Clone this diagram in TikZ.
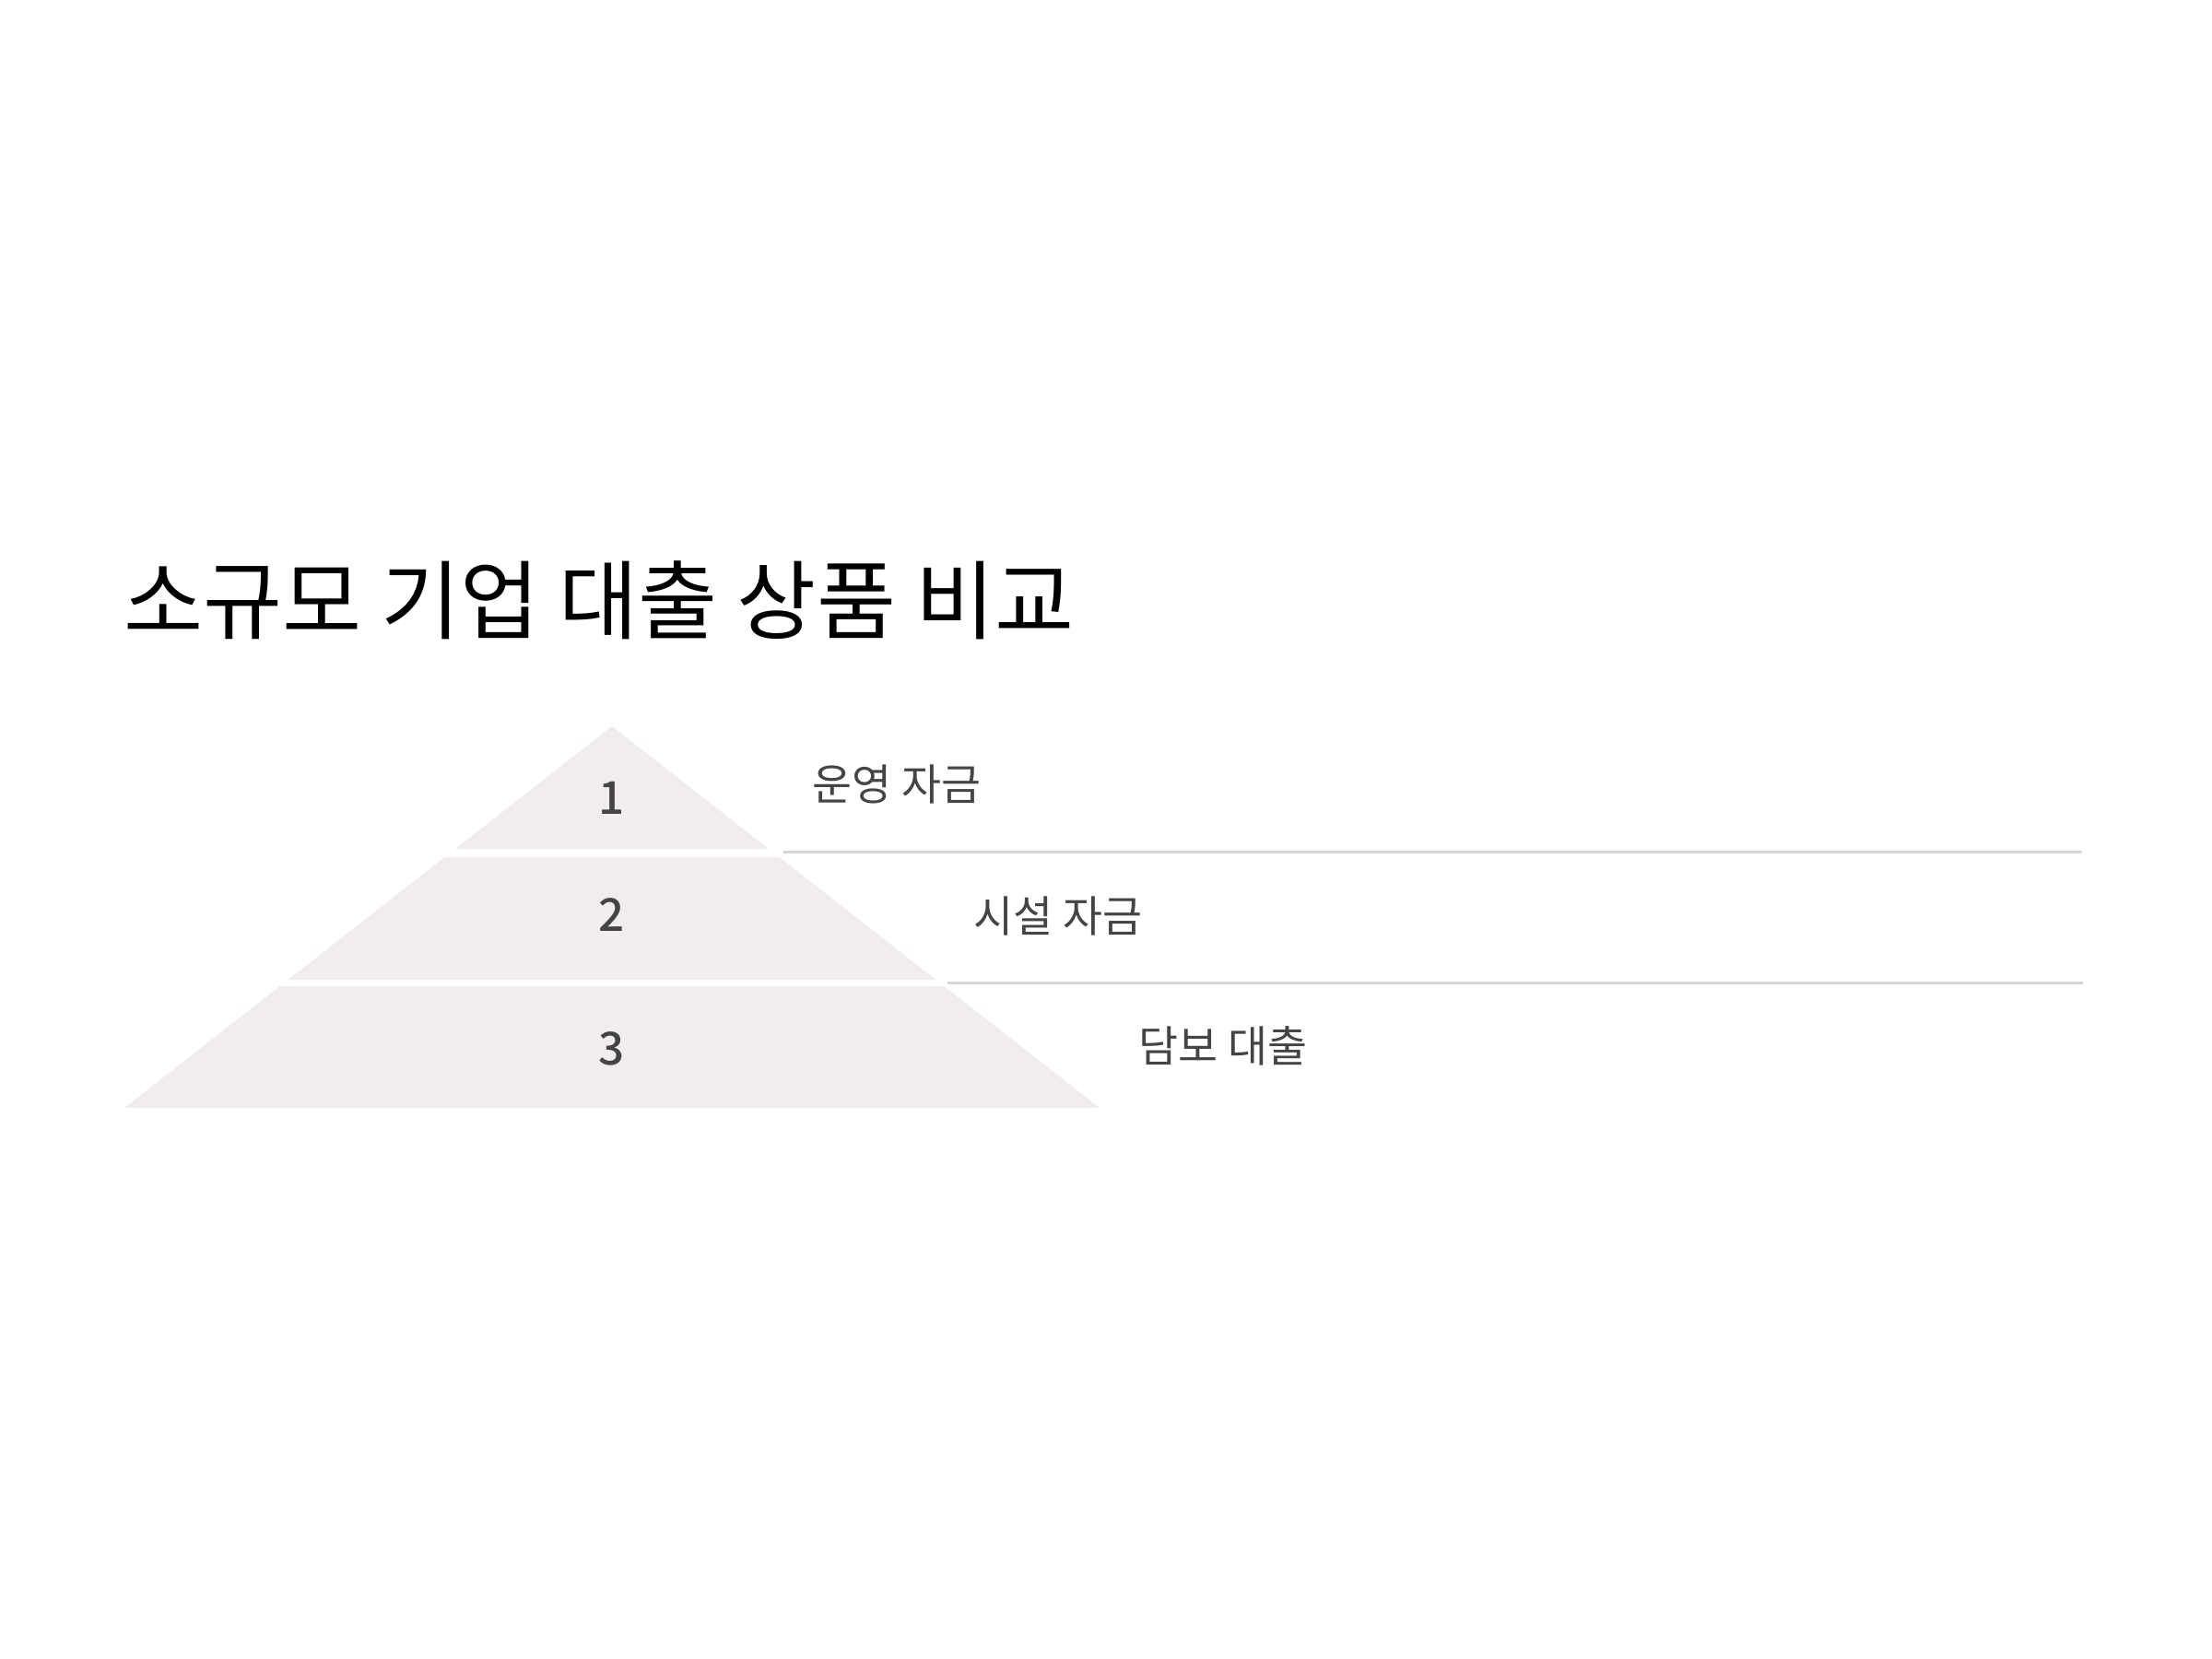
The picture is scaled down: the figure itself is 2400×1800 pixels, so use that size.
\documentclass[tikz,border=0pt]{standalone}
\usepackage{fontspec}
\setmainfont{Noto Sans CJK KR}
\newfontfamily\krmed{Noto Sans CJK KR Medium}
\definecolor{tierfill}{HTML}{F0EDEC}
\definecolor{sepline}{HTML}{D8D5D5}
\definecolor{labelgray}{HTML}{444444}
\begin{document}
\begin{tikzpicture}[x=0.01cm,y=-0.01cm,
  tier/.style={fill=tierfill,draw=none},
  sep/.style={draw=sepline,line width=0.85pt},
  num/.style={font=\krmed\fontsize{14pt}{16pt}\selectfont,text=labelgray,inner sep=0pt},
  lbl/.style={font=\fontsize{13.3pt}{16pt}\selectfont,text=labelgray,inner sep=0pt,anchor=west},
  ttl/.style={font=\fontsize{26.6pt}{32pt}\selectfont,text=black,inner sep=0pt,anchor=west}]
\useasboundingbox (0,0) rectangle (2400,1800);
\fill[white] (0,0) rectangle (2400,1800);
% title
\node[ttl] (title) at (134,651) {소규모 기업 대출 상품 비교};
% tiers
\path[tier] (664,788) -- (834,921) -- (494,921) -- cycle;
\path[tier] (482.6,930) -- (845.4,930) -- (1015.4,1063) -- (312.6,1063) -- cycle;
\path[tier] (303.7,1070) -- (1024.3,1070) -- (1193,1202) -- (135,1202) -- cycle;
% separators
\coordinate (s1a) at (850,924);
\coordinate (s1b) at (2259,924);
\coordinate (s2a) at (1028,1066);
\coordinate (s2b) at (2260,1066);
\draw[sep] (s1a) -- (s1b);
\draw[sep] (s2a) -- (s2b);
% numbers
\node[num] (n1) at (664,866) {1};
\node[num] (n2) at (664,993) {2};
\node[num] (n3) at (664,1138) {3};
% labels
\node[lbl] (l1) at (881,851) {운영 자금};
\node[lbl] (l2) at (1056,994) {시설 자금};
\node[lbl] (l3) at (1235,1135) {담보 대출};
\end{tikzpicture}
\end{document}
